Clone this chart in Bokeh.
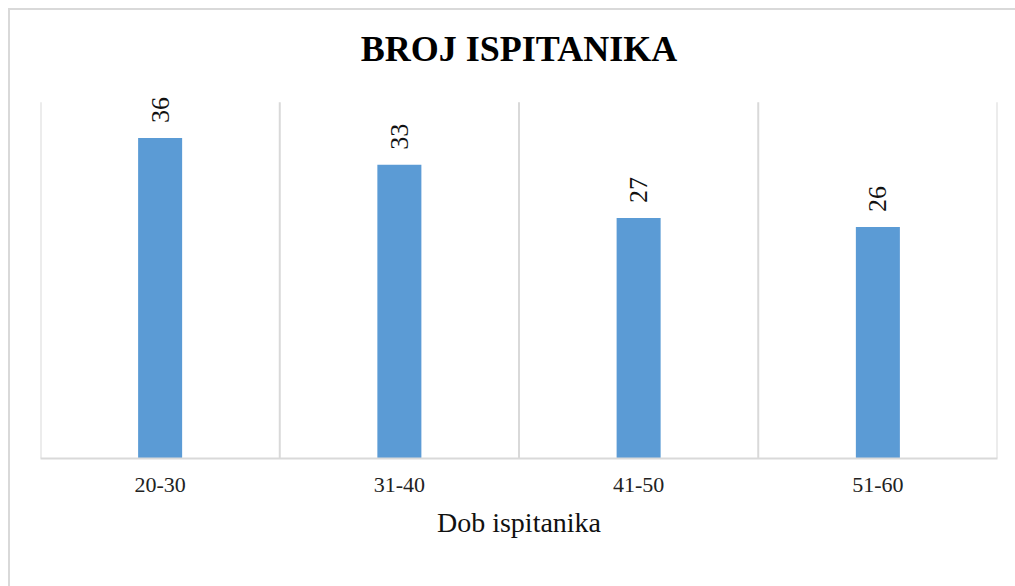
from math import pi

from bokeh.embed import file_html
from bokeh.resources import INLINE
from bokeh.plotting import figure
from bokeh.models import ColumnDataSource, LabelSet, Div
from bokeh.layouts import column

# ---- data ----
categories = ["20-30", "31-40", "41-50", "51-60"]
counts = [36, 33, 27, 26]
value_labels = [str(c) for c in counts]
axis_max = 40
title_text = "BROJ ISPITANIKA"
x_title = "Dob ispitanika"

source = ColumnDataSource(dict(cat=categories, count=counts, label=value_labels))
bounds = list(range(len(categories) + 1))
grid_src = ColumnDataSource(dict(x=bounds, y0=[0] * len(bounds),
                                 y1=[axis_max] * len(bounds)))

p = figure(
    x_range=categories,
    y_range=(0, axis_max + 2),
    width=995,
    height=545,
    output_backend="svg",
    toolbar_location=None,
    min_border_left=30,
    min_border_right=8,
    min_border_top=74,
    min_border_bottom=97,
)
p.outline_line_color = None
p.background_fill_color = "white"
p.border_fill_color = "white"

# title
p.title.text = title_text
p.title.align = "center"
p.title.text_font = "Liberation Serif"
p.title.text_font_size = "36px"
p.title.text_font_style = "bold"
p.title.text_color = "#000000"
p.title.standoff = 31

# category boundary grid lines
p.segment(x0="x", y0="y0", x1="x", y1="y1", source=grid_src,
          line_color="#d9d9d9", line_width=2)

# bars
p.vbar(x="cat", top="count", width=0.184, source=source,
       fill_color="#5B9BD5", line_color=None)

# value labels (rotated)
labels = LabelSet(x="cat", y="count", text="label", source=source,
                  angle=pi / 2, text_align="left", text_baseline="middle",
                  y_offset=15, text_font="Liberation Sans",
                  text_font_size="26px", text_color="#111111")
p.add_layout(labels)

# axes
p.yaxis.visible = False
p.ygrid.visible = False
p.xgrid.visible = False
xa = p.xaxis[0]
xa.axis_line_color = "#d9d9d9"
xa.axis_line_width = 2
xa.major_tick_line_color = None
xa.minor_tick_line_color = None
xa.major_label_text_font = "Liberation Serif"
xa.major_label_text_font_size = "22px"
xa.major_label_text_color = "#222222"
xa.major_label_standoff = 13
xa.axis_label = x_title
xa.axis_label_text_font = "Liberation Serif"
xa.axis_label_text_font_size = "28px"
xa.axis_label_text_font_style = "normal"
xa.axis_label_text_color = "#111111"
xa.axis_label_standoff = 12

spacer = Div(text="", width=995, height=26)
layout = column(p, spacer,
                styles={"border-left": "2px solid #d9d9d9",
                        "border-top": "2px solid #d9d9d9",
                        "margin-left": "8px",
                        "margin-top": "8px"})

open("out.html", "w").write(file_html(layout, INLINE))
